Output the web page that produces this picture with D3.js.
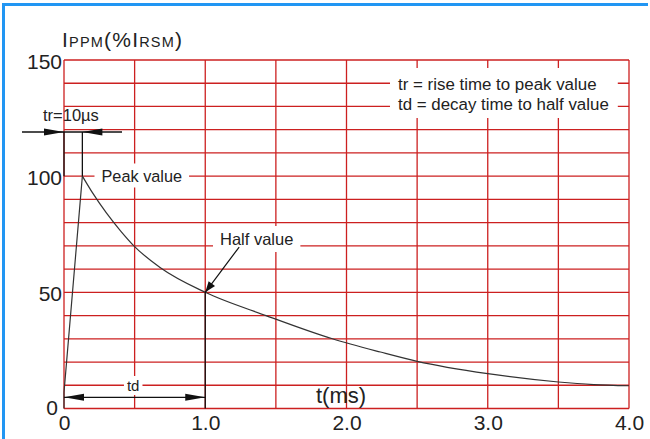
<!DOCTYPE html>
<html><head><meta charset="utf-8">
<script src="https://cdn.jsdelivr.net/npm/d3@7"></script>
<style>
html,body{margin:0;padding:0;background:#fff;}
svg{display:block;}
text{font-family:"Liberation Sans",Arial,sans-serif;fill:#222;}
</style></head>
<body>
<svg id="chart" width="650" height="439"></svg>
<script>
// ---- data ----
const xTickValues = [0, 1, 2, 3, 4];
const xTickLabels = ["0", "1.0", "2.0", "3.0", "4.0"];
const yTickValues = [0, 50, 100, 150];
const yTickLabels = ["0", "50", "100", "150"];
const xGridValues = [0, 0.5, 1, 1.5, 2, 2.5, 3, 3.5, 4];
const yGridValues = [0, 10, 20, 30, 40, 50, 60, 70, 80, 90, 100, 110, 120, 130, 140, 150];
const riseT = [0, 0, 0.13];
const riseV = [0, 7, 100];
const decayT = [0.13, 0.2, 0.3, 0.4, 0.5, 0.68, 1.0, 1.43, 1.9, 2.24, 2.5, 3.0, 3.5, 3.75, 4.0];
const decayV = [100, 93, 84.2, 76.5, 69.7, 60.7, 50, 40, 30, 24.3, 20.3, 15, 11.4, 10.3, 9.8];
const peakT = 0.13, peakV = 100, halfT = 1.0, halfV = 50, trArrowV = 119, tdArrowV = 4.8;
const legendLines = ["tr = rise time to peak value", "td = decay time to half value"];

const svg = d3.select("#chart");
const x = d3.scaleLinear().domain([0, 4]).range([64, 629]);
const y = d3.scaleLinear().domain([0, 150]).range([408.5, 60]);
const RED = "#cc2020", INK = "#222";

// frame border (blue)
svg.append("line").attr("x1", 2).attr("x2", 648).attr("y1", 4.5).attr("y2", 4.5)
  .attr("stroke", "#2196f3").attr("stroke-width", 3);
svg.append("line").attr("x1", 3.5).attr("x2", 3.5).attr("y1", 3).attr("y2", 439)
  .attr("stroke", "#2196f3").attr("stroke-width", 3);

// grid
const grid = svg.append("g");
grid.selectAll(".vg").data(xGridValues).join("line")
  .attr("x1", d => x(d)).attr("x2", d => x(d)).attr("y1", y(150)).attr("y2", y(0))
  .attr("stroke", RED).attr("stroke-width", 1.3);
grid.selectAll(".hg").data(yGridValues).join("line")
  .attr("y1", d => y(d)).attr("y2", d => y(d)).attr("x1", x(0)).attr("x2", x(4))
  .attr("stroke", RED).attr("stroke-width", 1.3);

// axes labels via d3 axes (no domain/ticks lines)
const xAxis = d3.axisBottom(x).tickValues(xTickValues).tickFormat((d, i) => xTickLabels[i]).tickSize(0).tickPadding(0);
const gx = svg.append("g").attr("transform", `translate(0,${y(0)})`).call(xAxis);
gx.select(".domain").remove();
gx.selectAll("text").attr("font-size", 21).attr("fill", INK).attr("font-family", "Liberation Sans, Arial, sans-serif")
  .attr("dy", null).attr("y", 21.5);
const yAxis = d3.axisLeft(y).tickValues(yTickValues).tickFormat((d, i) => yTickLabels[i]).tickSize(0).tickPadding(2);
const gy = svg.append("g").attr("transform", `translate(${x(0)},0)`).call(yAxis);
gy.select(".domain").remove();
gy.selectAll("text").attr("font-size", 21).attr("fill", INK).attr("font-family", "Liberation Sans, Arial, sans-serif")
  .attr("dy", d => d === 0 ? "0.28em" : "0.4em")
  .attr("x", d => d === 0 ? -6 : -2);

// helper: text with white box
function boxedText(g, str, tx, ty, size, anchor, padX, padY) {
  const grp = g.append("g");
  const t = grp.append("text").attr("x", tx).attr("y", ty).attr("font-size", size)
    .attr("text-anchor", anchor).text(str);
  const b = t.node().getBBox();
  grp.insert("rect", "text").attr("x", b.x - padX).attr("y", b.y - padY)
    .attr("width", b.width + 2 * padX).attr("height", b.height + 2 * padY).attr("fill", "#fff");
  return grp;
}

const ann = svg.append("g");

// legend box
const lg = ann.append("g");
lg.selectAll("text").data(legendLines).join("text")
  .attr("x", 398).attr("y", (d, i) => 89.5 + i * 20).attr("font-size", 16.9).text(d => d);
let lb = lg.node().getBBox();
lg.insert("rect", "text").attr("x", lb.x - 8).attr("y", 68).attr("width", lb.width + 17)
  .attr("height", 50).attr("fill", "#fff");

// labels
boxedText(ann, "Peak value", 101.5, 181.5, 16.3, "start", 7, 3);
boxedText(ann, "Half value", 220, 245, 16.5, "start", 7, 4);
boxedText(ann, "td", x(0.49), 391, 15, "middle", 3, 1);
ann.append("text").attr("x", 43).attr("y", 121).attr("font-size", 16.5).text("tr=10\u00b5s");
ann.append("text").attr("x", 341).attr("y", 403).attr("font-size", 22)
  .attr("text-anchor", "middle").text("t(ms)");

// title
const title = ann.append("text").attr("x", 62).attr("y", 47).attr("letter-spacing", 1.2);
[["I", 21], ["PPM", 14.5], ["(%I", 21], ["RSM", 14.5], [")", 21]].forEach(([s, fs]) => {
  title.append("tspan").attr("font-size", fs).text(s);
});

// curve
const line = d3.line().x(d => x(d[0])).y(d => y(d[1]));
const riseData = riseT.map((t, i) => [t, riseV[i]]);
const decayData = decayT.map((t, i) => [t, decayV[i]]);
svg.append("path").attr("d", line(riseData)).attr("fill", "none").attr("stroke", "#333").attr("stroke-width", 1.2);
svg.append("path").attr("d", line.curve(d3.curveMonotoneX)(decayData)).attr("fill", "none")
  .attr("stroke", "#333").attr("stroke-width", 1.2);

// dimension lines
const dim = svg.append("g").attr("stroke", "#111").attr("stroke-width", 1.3);
dim.append("line").attr("x1", x(0)).attr("x2", x(0)).attr("y1", y(trArrowV)).attr("y2", y(peakV));
dim.append("line").attr("x1", x(peakT)).attr("x2", x(peakT)).attr("y1", y(trArrowV)).attr("y2", y(peakV));
dim.append("line").attr("x1", 22).attr("x2", 122).attr("y1", y(trArrowV)).attr("y2", y(trArrowV));
dim.append("line").attr("x1", x(halfT)).attr("x2", x(halfT)).attr("y1", y(halfV)).attr("y2", y(0));
dim.append("line").attr("x1", x(0)).attr("x2", x(halfT)).attr("y1", y(tdArrowV)).attr("y2", y(tdArrowV));

function arrowHead(tipX, tipY, angle, len, half) {
  const c = Math.cos(angle), s = Math.sin(angle);
  const bx = tipX - len * c, by = tipY - len * s;
  return `M${tipX},${tipY}L${bx - half * s},${by + half * c}L${bx + half * s},${by - half * c}Z`;
}
const heads = svg.append("g").attr("fill", "#111");
// tr arrows pointing inward
heads.append("path").attr("d", arrowHead(x(0), y(trArrowV), 0, 20, 3.5));
heads.append("path").attr("d", arrowHead(x(peakT), y(trArrowV), Math.PI, 20, 3.5));
// td arrows pointing outward
heads.append("path").attr("d", arrowHead(x(0), y(tdArrowV), Math.PI, 20, 3.5));
heads.append("path").attr("d", arrowHead(x(halfT), y(tdArrowV), 0, 20, 3.5));
// half value pointer
const sx = x(1.24), sy = y(69.5), ex = x(halfT), ey = y(halfV);
svg.append("line").attr("x1", sx).attr("y1", sy).attr("x2", ex).attr("y2", ey)
  .attr("stroke", "#111").attr("stroke-width", 1.2);
heads.append("path").attr("d", arrowHead(ex, ey, Math.atan2(ey - sy, ex - sx), 11, 4));
</script>
</body></html>
